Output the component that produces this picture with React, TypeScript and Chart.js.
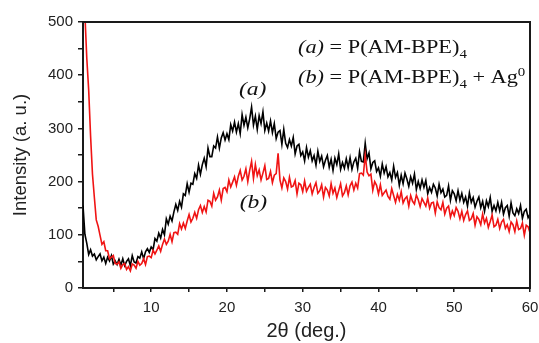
import React, { useEffect, useRef } from "react";
import { Chart, registerables } from "chart.js";

Chart.register(...registerables);

// Sampling grid of the scans (2θ, degrees)
const X_START = 1;
const X_STEP = 0.25;

// (a) P(AM-BPE)4 — black trace
const seriesA = [
  155, 101, 84, 63, 72, 60, 64, 53, 59, 64, 51, 58, 46, 58, 51, 61, 45, 51, 44, 54,
  43, 55, 42, 50, 55, 42, 61, 49, 47, 59, 56, 68, 55, 68, 74, 67, 77, 72, 93, 88,
  103, 94, 110, 100, 130, 120, 135, 126, 143, 157, 146, 163, 152, 177, 174, 196, 180, 197, 195, 215,
  206, 231, 214, 232, 244, 228, 263, 247, 247, 267, 263, 284, 263, 282, 292, 278, 290, 279, 307, 295,
  312, 293, 309, 290, 326, 306, 321, 301, 318, 340, 306, 323, 298, 324, 309, 331, 296, 310, 295, 314,
  292, 309, 281, 293, 296, 270, 298, 272, 264, 279, 267, 283, 252, 267, 270, 249, 256, 239, 264, 246,
  258, 239, 249, 231, 257, 238, 248, 228, 240, 249, 227, 242, 221, 244, 232, 252, 223, 236, 225, 243,
  226, 245, 223, 237, 244, 225, 256, 238, 237, 272, 243, 254, 224, 236, 239, 219, 226, 210, 233, 216,
  228, 209, 217, 203, 229, 208, 217, 193, 212, 196, 216, 205, 191, 209, 197, 214, 185, 200, 187, 203,
  189, 202, 177, 189, 180, 195, 188, 173, 195, 179, 186, 171, 174, 192, 165, 183, 177, 164, 183, 165,
  178, 161, 171, 154, 179, 161, 170, 152, 163, 171, 151, 163, 144, 164, 153, 170, 144, 155, 145, 161,
  145, 161, 139, 151, 155, 135, 160, 141, 136, 149, 140, 155, 131, 144, 148, 132, 139,
];

// (b) P(AM-BPE)4 + Ag0 — red trace
const seriesB = [
  624, 515, 432, 372, 286, 214, 170, 128, 116, 99, 82, 87, 70, 70, 55, 58, 61, 46, 45, 49,
  37, 44, 46, 35, 40, 32, 45, 43, 37, 50, 43, 46, 55, 44, 59, 60, 57, 71, 64, 71,
  79, 69, 82, 92, 82, 88, 101, 87, 104, 105, 101, 121, 111, 122, 112, 126, 138, 124, 131, 142,
  131, 147, 155, 142, 153, 143, 165, 163, 154, 178, 165, 171, 184, 165, 187, 189, 181, 203, 190, 199,
  209, 193, 210, 221, 203, 210, 224, 200, 221, 238, 206, 232, 211, 222, 203, 216, 230, 204, 206, 219,
  198, 212, 215, 253, 203, 188, 207, 200, 186, 208, 190, 192, 202, 177, 197, 194, 181, 201, 182, 189,
  195, 177, 189, 198, 178, 183, 194, 171, 189, 184, 173, 196, 178, 188, 170, 183, 196, 173, 179, 192,
  175, 192, 199, 184, 197, 188, 215, 216, 212, 250, 218, 211, 214, 184, 200, 193, 177, 194, 174, 179,
  184, 172, 167, 187, 174, 161, 176, 165, 181, 160, 168, 172, 154, 174, 163, 158, 175, 166, 153, 168,
  161, 154, 169, 150, 160, 161, 141, 162, 151, 147, 161, 139, 150, 154, 133, 145, 136, 151, 144, 130,
  144, 127, 138, 145, 127, 130, 140, 118, 134, 129, 119, 139, 122, 131, 114, 125, 137, 115, 118, 129,
  112, 124, 129, 112, 119, 106, 124, 119, 106, 126, 110, 112, 122, 99, 118, 115, 104,
];

// tick values (majors get a label, minors only a tick mark)
const xTickValues = [5, 10, 15, 20, 25, 30, 35, 40, 45, 50, 55, 60];
const xLabelled = [10, 20, 30, 40, 50, 60];
const yTickValues = [0, 50, 100, 150, 200, 250, 300, 350, 400, 450, 500];
const yLabelled = [0, 100, 200, 300, 400, 500];

const labelA = "(a)";
const labelB = "(b)";
const labelAPos = { x: 23.4, y: 372 };
const labelBPos = { x: 23.5, y: 160 };

const SERIF = '"Liberation Serif", "Times New Roman", serif';
const SANS = '"Liberation Sans", Arial, sans-serif';
const STRETCH = 1.24;
const AXIS_COLOR = "#1a1a1a";

type Run = { text: string; font: string; dy?: number };

const legendLines: Run[][] = [
  [
    { text: "(a)", font: `italic 18px ${SERIF}` },
    { text: " = P(AM-BPE)", font: `18px ${SERIF}` },
    { text: "4", font: `12px ${SERIF}`, dy: 5 },
  ],
  [
    { text: "(b)", font: `italic 18px ${SERIF}` },
    { text: " = P(AM-BPE)", font: `18px ${SERIF}` },
    { text: "4", font: `12px ${SERIF}`, dy: 5 },
    { text: " + Ag", font: `18px ${SERIF}` },
    { text: "0", font: `12px ${SERIF}`, dy: -7 },
  ],
];

function toPoints(vals: number[]) {
  return vals.map((y, i) => ({ x: X_START + i * X_STEP, y }));
}

function drawRuns(ctx: CanvasRenderingContext2D, x: number, y: number, runs: Run[]) {
  ctx.save();
  ctx.translate(x, y);
  ctx.scale(STRETCH, 1);
  ctx.textAlign = "left";
  ctx.textBaseline = "alphabetic";
  let cx = 0;
  for (const r of runs) {
    ctx.font = r.font;
    ctx.fillText(r.text, cx, r.dy || 0);
    cx += ctx.measureText(r.text).width;
  }
  ctx.restore();
}

const decorPlugin = {
  id: "decor",
  afterDraw(chart: any) {
    const ctx: CanvasRenderingContext2D = chart.ctx;
    const ca = chart.chartArea;
    const xs = chart.scales.x;
    const ys = chart.scales.y;
    ctx.save();
    // top and right frame
    ctx.fillStyle = AXIS_COLOR;
    ctx.fillRect(ca.left - 1, ca.top - 1, ca.right - ca.left + 2, 2);
    ctx.fillRect(ca.right - 1, ca.top - 1, 2, ca.bottom - ca.top + 2);

    // curve labels
    ctx.fillStyle = "#111";
    ctx.font = `italic 19px ${SERIF}`;
    const drawCentered = (t: string, px: number, py: number) => {
      ctx.save();
      ctx.translate(px, py);
      ctx.scale(STRETCH, 1);
      ctx.textAlign = "center";
      ctx.textBaseline = "middle";
      ctx.fillText(t, 0, 0);
      ctx.restore();
    };
    drawCentered(labelA, xs.getPixelForValue(labelAPos.x), ys.getPixelForValue(labelAPos.y));
    drawCentered(labelB, xs.getPixelForValue(labelBPos.x), ys.getPixelForValue(labelBPos.y));

    // legend text
    const lx = ca.left + 215;
    drawRuns(ctx, lx, ca.top + 31, legendLines[0]);
    drawRuns(ctx, lx, ca.top + 61, legendLines[1]);
    ctx.restore();
  },
};

export default function App() {
  const ref = useRef<HTMLCanvasElement | null>(null);
  useEffect(() => {
    document.body.style.margin = "0";
    document.body.style.overflow = "hidden";
    document.documentElement.style.overflow = "hidden";
    const canvas = ref.current;
    if (!canvas) return;
    const chart = new Chart(canvas, {
      type: "line",
      data: {
        datasets: [
          {
            label: "(b)",
            data: toPoints(seriesB),
            borderColor: "#f01414",
            borderWidth: 1.6,
            pointRadius: 0,
            tension: 0,
            fill: false,
          },
          {
            label: "(a)",
            data: toPoints(seriesA),
            borderColor: "#000000",
            borderWidth: 1.6,
            pointRadius: 0,
            tension: 0,
            fill: false,
          },
        ],
      },
      options: {
        responsive: false,
        animation: false,
        layout: { autoPadding: false, padding: { top: 22, right: 9, left: 0, bottom: 0 } },
        plugins: { legend: { display: false }, tooltip: { enabled: false } },
        scales: {
          x: {
            type: "linear",
            position: "bottom",
            min: 1,
            max: 60,
            afterBuildTicks: (axis: any) => {
              axis.ticks = xTickValues.map((v) => ({ value: v }));
            },
            afterFit: (s: any) => {
              s.height = 55;
              s.paddingRight = 9;
            },
            grid: {
              display: true,
              drawOnChartArea: false,
              drawTicks: true,
              tickLength: 4,
              color: AXIS_COLOR,
              lineWidth: 1.5,
            },
            border: { display: true, color: AXIS_COLOR, width: 2 },
            ticks: {
              padding: 7,
              color: "#222",
              font: { family: SANS, size: 15 },
              maxRotation: 0,
              autoSkip: false,
              callback: (v: any) => (xLabelled.includes(Number(v)) ? String(v) : ""),
            },
            title: {
              display: true,
              text: "2θ (deg.)",
              color: "#222",
              font: { family: SANS, size: 20 },
              padding: { top: 0, bottom: 0 },
            },
          },
          y: {
            type: "linear",
            position: "left",
            min: 0,
            max: 500,
            afterBuildTicks: (axis: any) => {
              axis.ticks = yTickValues.map((v) => ({ value: v }));
            },
            afterFit: (s: any) => {
              s.width = 83;
            },
            grid: {
              display: true,
              drawOnChartArea: false,
              drawTicks: true,
              tickLength: 5,
              color: AXIS_COLOR,
              lineWidth: 1.5,
            },
            border: { display: true, color: AXIS_COLOR, width: 2 },
            ticks: {
              padding: 5,
              color: "#222",
              font: { family: SANS, size: 15 },
              autoSkip: false,
              callback: (v: any) => (yLabelled.includes(Number(v)) ? String(v) : ""),
            },
            title: {
              display: true,
              text: "Intensity (a. u.)",
              color: "#222",
              font: { family: SANS, size: 18.5 },
              padding: { top: 10, bottom: 0 },
            },
          },
        },
      },
      plugins: [decorPlugin],
    });
    return () => chart.destroy();
  }, []);
  return (
    <div style={{ width: 539, height: 343 }}>
      <canvas ref={ref} width={539} height={343} style={{ display: "block" }} />
    </div>
  );
}
